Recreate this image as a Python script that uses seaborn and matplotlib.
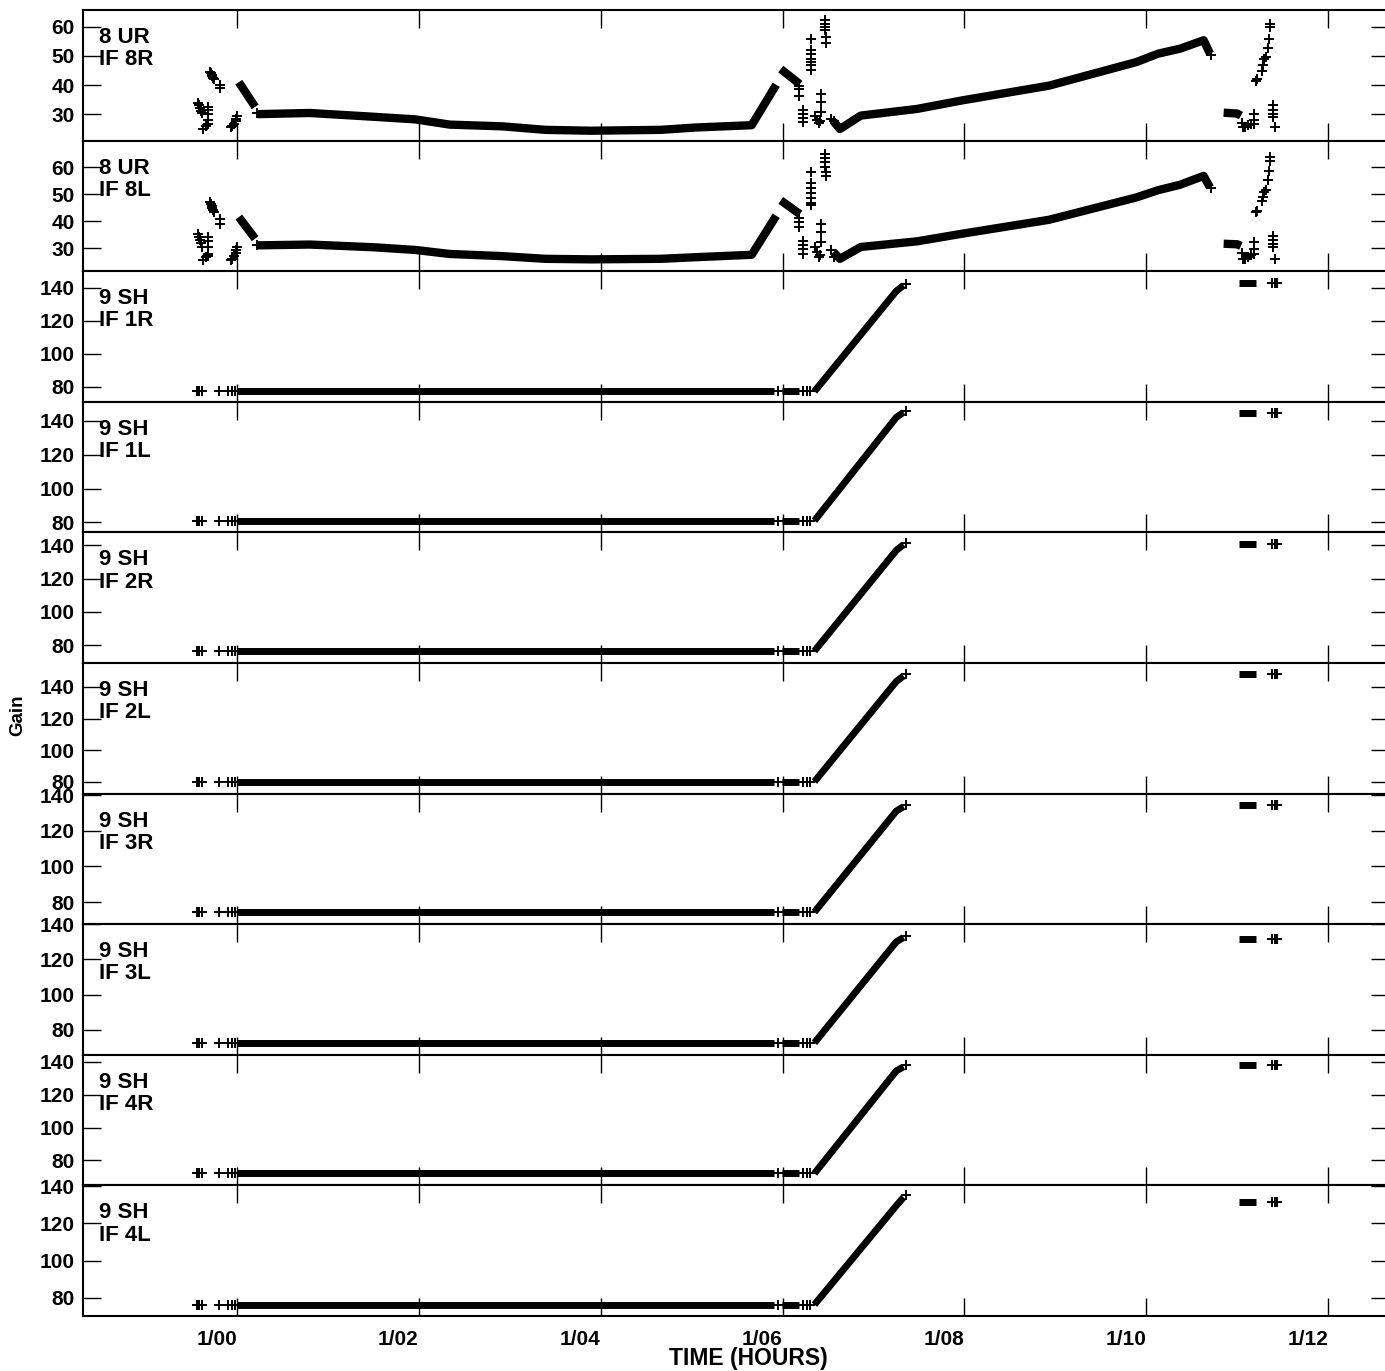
import numpy as np
import pandas as pd
import seaborn as sns
from matplotlib import pyplot as plt

sns.set_theme(style='ticks')
plt.rcParams['font.family'] = ['Liberation Sans', 'DejaVu Sans']
plt.rcParams['font.weight'] = 'bold'
plt.rcParams['text.color'] = 'black'
plt.rcParams['axes.labelcolor'] = 'black'
plt.rcParams['xtick.color'] = 'black'
plt.rcParams['ytick.color'] = 'black'

# time axis (hours from 1/00)
XTICKS = [0, 2, 4, 6, 8, 10, 12]
XTICK_LABELS = ['1/00', '1/02', '1/04', '1/06', '1/08', '1/10', '1/12']

PANEL_LABELS = ['8 UR\nIF 8R', '8 UR\nIF 8L',
                '9 SH\nIF 1R', '9 SH\nIF 1L', '9 SH\nIF 2R', '9 SH\nIF 2L',
                '9 SH\nIF 3R', '9 SH\nIF 3L', '9 SH\nIF 4R', '9 SH\nIF 4L']

# ---- antenna 8 UR, IF 8R ----
ur8r_seg_t = [[0.02, 0.20],
              [0.23, 0.80, 1.50, 1.96, 2.34, 2.92, 3.39, 3.89, 4.66, 5.04, 5.66, 5.93],
              [5.98, 6.19],
              [6.56, 6.63, 6.86, 7.48, 7.97, 8.93, 9.89, 10.13, 10.37, 10.63, 10.70],
              [10.85, 11.00, 11.04]]
ur8r_seg_v = [[41.0, 32.5],
              [30.0, 30.4, 29.1, 28.2, 26.4, 25.8, 24.6, 24.3, 24.6, 25.4, 26.2, 40.1],
              [45.5, 40.3],
              [27.5, 24.9, 29.5, 31.8, 34.7, 39.8, 47.9, 50.8, 52.5, 55.4, 50.8],
              [30.5, 30.2, 29.5]]
ur8r_pts_t = [-0.43, -0.42, -0.41, -0.40, -0.39, -0.32, -0.32, -0.32, -0.32, -0.37, -0.34, -0.32,
              -0.30, -0.29, -0.28, -0.27, -0.26, -0.25, -0.19, -0.19,
              -0.07, -0.05, -0.03, -0.01, -0.01, 0.00, 0.22,
              6.18, 6.18, 6.18, 6.22, 6.22, 6.22, 6.22,
              6.31, 6.31, 6.31, 6.31, 6.31, 6.31, 6.31,
              6.36, 6.38, 6.40, 6.41, 6.42, 6.42, 6.42,
              6.47, 6.47, 6.47, 6.47, 6.48, 6.48, 6.53, 6.56, 10.71,
              11.05, 11.06, 11.09, 11.12, 11.15, 11.18, 11.18, 11.18, 11.21, 11.22,
              11.27, 11.28, 11.29, 11.32, 11.34, 11.35, 11.36, 11.36,
              11.39, 11.39, 11.39, 11.39, 11.42]
ur8r_pts_v = [34.0, 33.0, 32.0, 31.0, 30.5, 32.5, 31.5, 30.0, 28.0, 25.0, 26.0, 26.5,
              44.5, 44.0, 43.5, 43.0, 42.5, 42.0, 40.0, 39.0,
              25.5, 26.0, 26.5, 27.5, 28.5, 29.5, 30.3,
              39.8, 38.5, 36.4, 31.3, 30.1, 28.7, 27.2,
              56.0, 52.0, 50.8, 49.1, 48.0, 46.8, 45.1,
              29.5, 28.0, 26.8, 27.5, 37.0, 34.1, 30.7,
              62.3, 61.1, 60.0, 58.9, 56.6, 54.4, 28.4, 27.5, 50.2,
              27.0, 25.5, 25.5, 26.1, 26.5, 30.0, 28.0, 26.7, 41.5, 42.0,
              45.0, 47.0, 49.0, 49.7, 52.6, 56.0, 60.0, 61.0,
              33.0, 31.5, 30.2, 29.0, 25.5]

# ---- antenna 8 UR, IF 8L ----
ur8l_seg_t = ur8r_seg_t
ur8l_seg_v = [[41.5, 33.5],
              [31.0, 31.3, 30.3, 29.3, 27.8, 27.0, 26.0, 25.8, 26.0, 26.6, 27.5, 42.0],
              [47.7, 42.6],
              [28.5, 26.0, 30.4, 32.5, 35.3, 40.5, 48.8, 51.5, 53.5, 56.8, 52.5],
              [31.6, 31.4, 30.8]]
ur8l_pts_t = ur8r_pts_t
ur8l_pts_v = [35.3, 34.0, 33.0, 31.8, 30.4, 34.0, 32.5, 30.5, 27.9, 25.4, 26.7, 27.0,
              47.0, 46.3, 45.5, 44.8, 44.0, 43.3, 40.9, 39.0,
              25.4, 26.0, 27.0, 28.2, 29.3, 30.4, 31.0,
              41.3, 39.5, 37.7, 32.8, 31.0, 29.5, 27.9,
              58.4, 54.1, 52.3, 50.5, 48.7, 46.8, 46.0,
              30.4, 28.5, 26.7, 27.5, 38.9, 35.9, 32.2,
              65.1, 63.3, 62.1, 60.2, 58.4, 56.6, 29.1, 26.7, 52.3,
              28.0, 26.1, 26.1, 26.8, 27.5, 32.2, 29.8, 27.9, 43.5, 43.8,
              47.4, 49.0, 51.0, 51.7, 55.4, 58.7, 62.5, 63.9,
              34.6, 33.0, 31.6, 30.4, 26.1]

# ---- antenna 9 SH, IF 1R..4L (shared sampling times) ----
sh_flat1_t = [0.00, 5.91]
sh_flat2_t = [5.99, 6.18]
sh_ramp_t = [6.35, 7.25, 7.33]
sh_late_t = [11.02, 11.21]
sh_pre_t = [-0.44, -0.42, -0.39, -0.20, -0.10, -0.05, -0.02, 5.95, 6.22, 6.27, 6.30]
sh_peak_t = [7.36]
sh_late_pts_t = [11.38, 11.41, 11.44]

sh_base = [77.0, 81.0, 76.4, 80.0, 74.4, 72.7, 72.0, 76.4]
sh_top = [138.0, 142.0, 137.0, 143.5, 131.0, 130.0, 134.5, 129.5]
sh_peak = [142.5, 146.0, 141.5, 148.0, 134.5, 133.5, 138.0, 135.0]
sh_late = [142.7, 144.8, 140.6, 148.0, 134.6, 131.8, 138.0, 131.6]

YLIMS = [(20.9, 65.8), (21.4, 69.9), (70.7, 150.1), (74.1, 151.2), (69.2, 147.8),
         (72.4, 155.2), (67.6, 140.8), (65.9, 139.7), (64.7, 144.3), (70.3, 140.4)]
YTICKS_UR = [30, 40, 50, 60]
YTICKS_SH = [80, 100, 120, 140]


def panel_frames(i):
    if i < 2:
        seg_t, seg_v = (ur8r_seg_t, ur8r_seg_v) if i == 0 else (ur8l_seg_t, ur8l_seg_v)
        pts_t, pts_v = (ur8r_pts_t, ur8r_pts_v) if i == 0 else (ur8l_pts_t, ur8l_pts_v)
    else:
        k = i - 2
        b, tp, pk, lt = sh_base[k], sh_top[k], sh_peak[k], sh_late[k]
        seg_t = [sh_flat1_t, sh_flat2_t, sh_ramp_t, sh_late_t]
        seg_v = [[b, b], [b, b], [b, tp, pk - 1.0], [lt, lt]]
        pts_t = sh_pre_t + sh_peak_t + sh_late_pts_t
        pts_v = [b] * len(sh_pre_t) + [pk] + [lt] * len(sh_late_pts_t)
    rows = []
    for s, (tt, vv) in enumerate(zip(seg_t, seg_v)):
        for a, c in zip(tt, vv):
            rows.append((s, a, c))
    lines = pd.DataFrame(rows, columns=['seg', 't', 'v'])
    pts = pd.DataFrame({'t': pts_t, 'v': pts_v})
    return lines, pts


fig, axes = plt.subplots(10, 1, figsize=(13.85, 13.71), dpi=100, sharex=True)
fig.subplots_adjust(left=0.060, right=1.003, top=0.9927, bottom=0.0401, hspace=0)

for i, ax in enumerate(axes):
    lines, pts = panel_frames(i)
    sns.lineplot(data=lines, x='t', y='v', units='seg', estimator=None, sort=False,
                 color='black', lw=6 if i < 2 else 5, ax=ax, solid_capstyle='butt')
    sns.scatterplot(data=pts, x='t', y='v', marker='+', color='black', s=60,
                    linewidth=1.4, ax=ax)
    ax.set_xlim(-1.692, 12.67)
    ax.set_ylim(*YLIMS[i])
    ax.set_yticks(YTICKS_UR if i < 2 else YTICKS_SH)
    ax.set_xticks(XTICKS)
    ax.set_xlabel('')
    ax.set_ylabel('')
    ax.tick_params(axis='both', direction='in', length=13, width=1, top=True, right=True,
                   labelsize=15, color='black', labelcolor='black', pad=6)
    for lab in ax.get_yticklabels():
        lab.set_fontweight('bold')
    for sp in ax.spines.values():
        sp.set_linewidth(1.5)
        sp.set_color('black')
    ax.text(0.0125, 0.87, PANEL_LABELS[i], transform=ax.transAxes, fontsize=16,
            fontweight='bold', va='top', ha='left', linespacing=1.08)

axes[-1].set_xticks(XTICKS)
axes[-1].set_xticklabels(XTICK_LABELS, ha='right', fontweight='bold')
axes[-1].tick_params(axis='x', pad=10)

fig.text(0.54, 1 - 1359 / 1371, 'TIME (HOURS)', ha='center', va='center', fontsize=16.5,
         fontweight='bold')
fig.text(18 / 1385, 1 - 715 / 1371, 'Gain', ha='center', va='center', rotation=90,
         fontsize=13.5, fontweight='bold')

fig.savefig('out.png', dpi=100)
